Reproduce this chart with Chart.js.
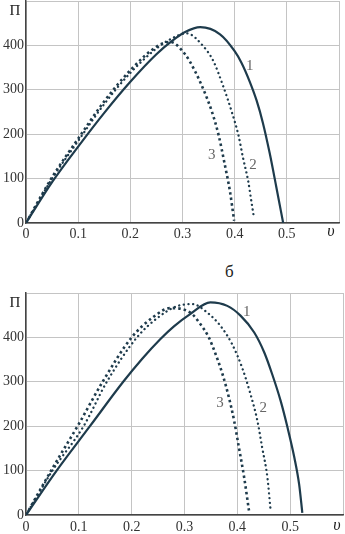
<!DOCTYPE html>
<html>
<head>
<meta charset="utf-8">
<script src="https://cdn.jsdelivr.net/npm/chart.js@4/dist/chart.umd.min.js"></script>
<style>
  body { margin: 0; background: #fff; width: 345px; height: 534px; position: relative; overflow: hidden; }
  canvas { position: absolute; left: 0; }
  #c1 { top: 0; }
  #c2 { top: 250px; }
  #sub { position: absolute; left: 225px; top: 262px; font: 17px "Liberation Serif", serif; color: #222; }
</style>
</head>
<body>
<canvas id="c1" width="345" height="245"></canvas>
<div id="sub">б</div>
<canvas id="c2" width="345" height="284"></canvas>
<script>
// axis ticks
const xTicks = [0, 0.1, 0.2, 0.3, 0.4, 0.5, 0.6];
const yTicks = [0, 100, 200, 300, 400, 500];

// upper chart, curve 1 (solid), 2 (dotted), 3 (dashed)
const a1x = [0, 0.05, 0.1, 0.15, 0.2, 0.25, 0.28, 0.305, 0.334, 0.372, 0.4, 0.413, 0.429, 0.442, 0.454, 0.467, 0.48, 0.493];
const a1y = [0, 92, 172, 248, 318, 380, 410, 430, 441, 425, 387, 361, 318, 276, 226, 158, 80, 0];
const a2x = [0, 0.05, 0.1, 0.15, 0.2, 0.25, 0.28, 0.308, 0.34, 0.359, 0.378, 0.394, 0.407, 0.416, 0.426, 0.432, 0.437];
const a2y = [0, 100, 185, 268, 338, 393, 416, 427, 398, 365, 308, 252, 199, 147, 94, 49, 12];
const a3x = [0, 0.05, 0.1, 0.15, 0.2, 0.25, 0.276, 0.305, 0.324, 0.34, 0.356, 0.369, 0.381, 0.391, 0.399];
const a3y = [0, 103, 190, 274, 344, 397, 408, 380, 342, 301, 252, 199, 132, 71, 5];

// lower chart
const b1x = [0, 0.058, 0.121, 0.184, 0.22, 0.254, 0.28, 0.31, 0.349, 0.381, 0.406, 0.432, 0.451, 0.466, 0.482, 0.495, 0.508, 0.517, 0.523];
const b1y = [0, 100, 200, 300, 352, 396, 425, 452, 479, 471, 449, 411, 366, 317, 257, 197, 129, 69, 5];
const b2x = [0, 0.05, 0.109, 0.153, 0.21, 0.25, 0.285, 0.315, 0.343, 0.368, 0.39, 0.409, 0.425, 0.438, 0.447, 0.457, 0.463];
const b2y = [0, 100, 200, 300, 400, 445, 470, 475, 456, 426, 385, 332, 272, 212, 152, 84, 10];
const b3x = [0, 0.05, 0.1, 0.145, 0.2, 0.24, 0.273, 0.311, 0.33, 0.346, 0.359, 0.372, 0.384, 0.394, 0.403, 0.413, 0.422];
const b3y = [0, 105, 205, 300, 400, 445, 466, 456, 430, 400, 362, 317, 265, 212, 152, 84, 10];

// curve numbers, in data units
const aLabels = [['1', 0.429, 353], ['2', 0.435, 131], ['3', 0.356, 153]];
const bLabels = [['1', 0.418, 456], ['2', 0.449, 241], ['3', 0.367, 253]];

const ink = '#1e3b4c';
const serif = '"Liberation Serif", "Times New Roman", serif';

function pts(xs, ys) {
  return xs.map((x, i) => ({ x: x, y: ys[i] }));
}

function sets(x1, y1, x2, y2, x3, y3) {
  return [
    { data: pts(x1, y1), borderColor: ink, borderWidth: 2.2, cubicInterpolationMode: 'monotone' },
    { data: pts(x2, y2), borderColor: ink, borderWidth: 2.3, borderDash: [0.1, 4.6], borderCapStyle: 'round', cubicInterpolationMode: 'monotone' },
    { data: pts(x3, y3), borderColor: ink, borderWidth: 2.6, borderDash: [2.5, 3], cubicInterpolationMode: 'monotone' }
  ];
}

// draws П, υ and the curve numbers
const marks = {
  id: 'marks',
  afterDraw(chart, args, opts) {
    const c = chart.ctx, area = chart.chartArea;
    const xs = chart.scales.x, ys = chart.scales.y;
    c.save();
    c.fillStyle = '#222';
    c.font = '15px ' + serif;
    c.textAlign = 'center';
    c.textBaseline = 'middle';
    c.fillText('П', 15, area.top + 10);
    c.font = 'italic 16px ' + serif;
    c.fillText('υ', area.right + opts.ux, area.bottom + opts.uy);
    c.font = '15px ' + serif;
    c.fillStyle = '#666';
    opts.labels.forEach(l => c.fillText(l[0], xs.getPixelForValue(l[1]), ys.getPixelForValue(l[2])));
    c.restore();
  }
};

function make(id, data, pad, xh, xpad, labels, ux, uy) {
  new Chart(document.getElementById(id), {
    type: 'line',
    data: { datasets: data },
    plugins: [marks],
    options: {
      responsive: false,
      animation: false,
      layout: { padding: pad },
      elements: { point: { radius: 0 } },
      plugins: { legend: { display: false }, tooltip: { enabled: false }, marks: { labels: labels, ux: ux, uy: uy } },
      scales: {
        x: {
          type: 'linear', min: 0, max: 0.6,
          afterBuildTicks: s => { s.ticks = xTicks.map(v => ({ value: v })); },
          afterFit: s => { s.height = xh; s.paddingLeft = 0; s.paddingRight = 0; },
          grid: { color: '#c4c4c4', lineWidth: 1, drawTicks: false },
          border: { color: '#444', width: 1.5 },
          ticks: { padding: xpad, color: '#333', font: { family: serif, size: 14 },
            callback: v => v === 0.6 ? '' : String(v) }
        },
        y: {
          min: 0, max: 500,
          afterBuildTicks: s => { s.ticks = yTicks.map(v => ({ value: v })); },
          afterFit: s => { s.width = 26; s.paddingTop = 0; s.paddingBottom = 0; },
          grid: { color: '#c4c4c4', lineWidth: 1, drawTicks: false },
          border: { color: '#444', width: 1.5 },
          ticks: { padding: 2, color: '#333', font: { family: serif, size: 14 },
            callback: v => v === 500 ? '' : String(v) }
        }
      }
    }
  });
}

make('c1', sets(a1x, a1y, a2x, a2y, a3x, a3y), { top: 1, right: 6, left: 0, bottom: 0 }, 22, 3, aLabels, -8, 9);
make('c2', sets(b1x, b1y, b2x, b2y, b3x, b3y), { top: 43, right: 2, left: 0, bottom: 0 }, 19, 4, bLabels, -6, 11);
</script>
</body>
</html>
